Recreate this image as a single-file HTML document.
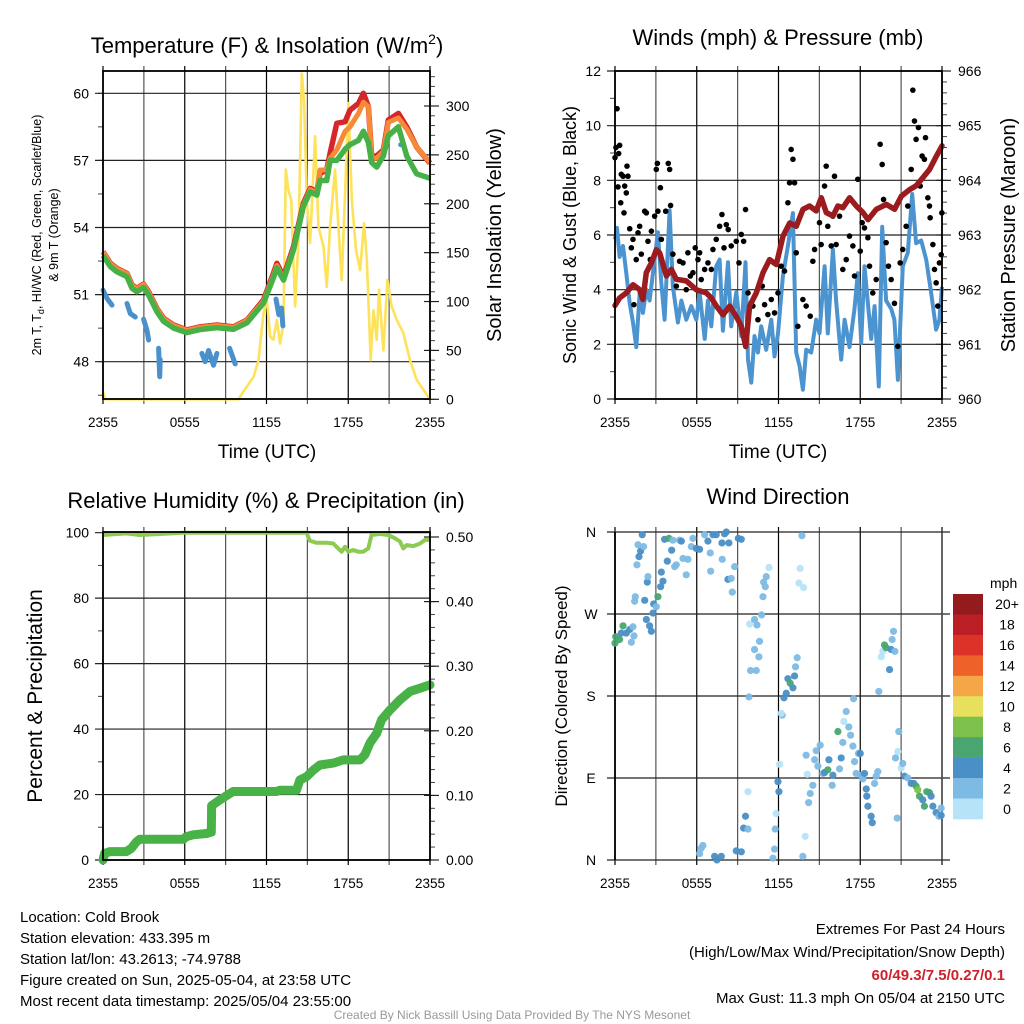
<!DOCTYPE html>
<html><head><meta charset="utf-8">
<style>
html,body{margin:0;padding:0;background:#fff;}
svg{display:block;font-family:"Liberation Sans",Arial,sans-serif;}
</style></head>
<body>
<svg id="fig" width="1024" height="1024" viewBox="0 0 1024 1024">
<rect width="1024" height="1024" fill="#fff"/>
<g id="g-tl"></g>
<g id="g-tr"></g>
<g id="g-bl"></g>
<g id="g-br"></g>
<g id="g-txt">
<text x="20" y="922" font-size="15">Location: Cold Brook</text>
<text x="20" y="943" font-size="15">Station elevation: 433.395 m</text>
<text x="20" y="964" font-size="15">Station lat/lon: 43.2613; -74.9788</text>
<text x="20" y="985" font-size="15">Figure created on Sun, 2025-05-04, at 23:58 UTC</text>
<text x="20" y="1006" font-size="15">Most recent data timestamp: 2025/05/04 23:55:00</text>
<text x="1005" y="934" font-size="15" text-anchor="end">Extremes For Past 24 Hours</text>
<text x="1005" y="957" font-size="15" text-anchor="end">(High/Low/Max Wind/Precipitation/Snow Depth)</text>
<text x="1005" y="980" font-size="15" font-weight="bold" fill="#d0202a" text-anchor="end">60/49.3/7.5/0.27/0.1</text>
<text x="1005" y="1003" font-size="15" text-anchor="end">Max Gust: 11.3 mph On 05/04 at 2150 UTC</text>
<text x="512" y="1019" font-size="12" fill="#999" text-anchor="middle">Created By Nick Bassill Using Data Provided By The NYS Mesonet</text>
</g>
</svg>
<script>
// ---------- data ----------
const timeTicks = [0,3,6,9,12,15,18,21,24];
const timeTickLabels = ["2355","0555","1155","1755","2355"];
const tempTicks = [48,51,54,57,60];
const insTicks = [0,50,100,150,200,250,300];
const windTicks = [0,2,4,6,8,10,12];
const presTicks = [960,961,962,963,964,965,966];
const rhTicks = [0,20,40,60,80,100];
const precipTicks = [0,0.1,0.2,0.3,0.4,0.5];
const precipTickLabels = ["0.00","0.10","0.20","0.30","0.40","0.50"];
const dirTicks = [0,90,180,270,360];
const dirTickLabels = ["N","E","S","W","N"];

const tempTime = [0,0.54,1.03,1.76,2.13,2.49,2.98,3.35,3.96,4.45,5.18,6.16,7.14,8.36,9.58,10.56,11.78,12.51,12.76,13.25,13.98,14.71,15.2,15.69,15.93,16.42,16.67,17.16,17.77,18.13,18.75,19.11,19.48,19.72,20.09,20.58,20.94,21.68,22.29,23.02,24];
const tempRed = [52.92,52.4,52.17,51.95,51.43,51.28,51.47,51.13,50.38,49.94,49.64,49.42,49.56,49.64,49.56,49.86,50.76,51.95,52.4,51.8,53.14,55.08,55.75,55.6,56.42,56.57,57.32,58.66,58.73,59.25,59.55,60.0,59.4,57.17,57.2,57.47,58.8,59.1,58.5,57.6,56.87];
const tempOrange = [52.9,52.38,52.15,51.93,51.41,51.26,51.45,51.1,50.36,49.92,49.62,49.4,49.54,49.62,49.54,49.84,50.7,51.85,52.3,51.7,53.05,55.0,55.7,55.55,56.57,56.57,57.1,57.47,58.3,58.5,59.1,59.6,59.4,57.1,57.1,57.4,58.7,58.9,58.4,57.6,56.9];
const tempGreen = [52.75,52.25,52.02,51.8,51.28,51.13,51.32,50.98,50.23,49.8,49.5,49.3,49.44,49.52,49.45,49.74,50.62,51.75,52.2,51.65,53.0,54.95,55.6,55.45,56.1,56.1,57.0,57.0,57.5,57.7,57.9,58.3,57.8,56.9,56.7,57.2,58.1,58.5,57.2,56.4,56.2];
const dewTime = [0,0.29,0.66,null,1.76,2.0,2.37,null,2.98,3.23,3.35,null,4.08,4.16,4.2,null,7.26,7.5,7.75,8.11,8.36,null,9.29,9.7,null,12.7,12.9,13.1,13.2,null,21.85,21.9];
const dewVal  = [51.2,50.83,50.53,null,50.6,50.15,50.0,null,49.9,49.4,48.97,null,48.6,47.33,48.1,null,48.37,48.0,48.5,47.84,48.37,null,48.6,47.9,null,50.8,50.1,50.4,49.6,null,57.7,57.7];
const insTime = [0,0.17,9.95,10.31,11.05,11.41,11.78,12.02,12.27,12.51,12.76,13.0,13.25,13.42,13.61,13.81,14.1,14.35,14.59,14.76,14.96,15.2,15.57,15.81,16.18,16.42,16.67,17.03,17.28,17.52,17.77,18.01,18.26,18.57,18.87,19.16,19.36,19.65,19.85,20.09,20.26,20.58,20.87,21.19,21.56,22.04,22.53,23.02,23.51,24];
const insVal = [8,0,0,8,23,40,88,102,64,61,81,57,78,235,214,204,95,163,333,306,204,160,269,177,156,115,177,235,177,122,211,303,204,153,132,180,143,40,91,61,112,50,122,95,81,68,40,20,10,0];

const windTime = [0,.15,.34,.59,.83,1.08,1.32,1.56,1.81,2.05,2.30,2.54,2.91,3.15,3.40,3.64,4.01,4.25,4.62,4.87,5.23,5.6,5.97,6.21,6.58,6.82,7.07,7.43,7.68,7.92,8.29,8.53,8.90,9.27,9.58,9.76,10.0,10.24,10.49,10.73,11.1,11.47,11.71,11.96,12.32,12.69,13.06,13.3,13.55,13.79,14.03,14.4,14.77,15.01,15.38,15.62,15.99,16.23,16.6,16.85,17.21,17.58,17.82,18.07,18.31,18.56,18.8,19.05,19.36,19.61,19.9,20.27,20.51,20.76,21.12,21.49,21.81,22.1,22.47,22.84,23.2,23.57,23.81,24];
const windVal = [5.84,6.26,5.2,5.6,4.6,3.5,2.8,1.9,3.9,3.15,4.0,3.6,5.1,6.1,4.25,2.9,6.9,4.1,2.8,3.6,2.9,3.4,2.9,3.9,2.2,3.6,2.66,4.85,5.1,2.5,5.0,2.66,3.9,2.3,5.0,1.44,0.6,2.3,1.7,2.66,1.8,2.9,1.56,2.4,4.5,5.6,6.8,1.7,1.2,0.34,1.8,1.7,2.9,2.4,4.86,2.4,5.47,3.6,1.44,2.9,1.9,3.3,4.6,2.05,4.86,3.5,2.2,3.4,0.46,6.3,3.6,3.3,2.9,0.7,4.86,5.35,7.5,5.7,5.8,5.1,3.9,2.54,2.9,4.1];
const gustTime = [0,.07,.15,.27,.34,.22,.46,.59,.42,.71,.83,.88,.95,.66,1.08,1.2,1.32,1.39,1.56,1.69,1.81,1.93,2.18,2.30,2.42,2.59,2.67,2.91,3.03,3.11,3.15,3.33,3.40,3.72,3.91,4.01,4.08,4.25,4.50,4.74,4.99,5.23,5.35,5.53,5.72,5.89,6.09,6.21,6.33,6.58,6.82,7.07,7.19,7.43,7.68,7.85,8.0,8.17,8.31,8.53,8.90,9.10,9.27,9.44,9.58,9.76,10.12,10.49,10.81,10.98,11.22,11.47,11.71,11.96,12.2,12.44,12.69,12.81,12.93,13.06,13.18,13.30,13.42,13.79,14.03,14.33,14.52,14.65,14.77,15.01,15.13,15.38,15.5,15.62,15.87,15.99,16.11,16.23,16.48,16.72,16.97,17.21,17.46,17.58,17.82,18.0,18.14,18.31,18.56,18.68,18.92,19.17,19.46,19.61,19.71,19.90,20.07,20.27,20.51,20.76,20.93,21.12,21.37,21.49,21.74,21.86,21.98,22.10,22.27,22.40,22.54,22.71,22.79,22.96,23.08,23.13,23.33,23.45,23.57,23.69,23.81,23.94,23.99];
const gustVal = [8.83,9.2,10.62,8.98,9.28,7.76,8.22,8.15,7.18,7.79,7.54,8.52,8.15,6.81,6.23,5.53,5.84,3.45,5.1,6.08,6.32,5.3,6.87,6.81,5.77,5.1,6.14,6.69,8.4,8.62,6.87,7.73,5.84,6.87,8.62,8.4,7.08,5.3,4.13,5.04,4.98,4.0,5.35,4.5,4.62,5.53,5.1,5.35,4.37,4.74,4.98,4.74,5.47,5.84,6.32,6.75,5.53,6.38,6.2,5.6,5.77,4.98,6.02,5.77,6.93,3.88,3.4,2.9,4.13,3.45,3.09,3.64,3.15,3.88,4.86,4.68,7.18,7.91,9.13,8.77,7.91,5.35,2.66,3.64,3.4,3.03,5.04,5.47,6.93,6.45,5.65,7.79,8.52,6.32,5.6,6.69,8.15,5.65,6.69,4.74,5.1,5.96,5.6,4.5,8.04,5.41,6.45,6.26,5.9,4.86,3.88,4.37,9.32,8.58,7.3,5.72,4.86,4.37,3.5,1.93,4.98,5.47,6.32,7.06,8.4,11.3,10.17,9.5,9.93,7.79,8.89,8.77,9.56,7.36,7.06,6.63,5.65,4.74,4.25,3.4,4.98,5.28,6.81];
const presTime = [0,0.34,0.83,1.32,1.81,2.05,2.30,2.67,3.03,3.28,3.77,4.13,4.50,5.23,5.97,6.70,7.07,7.44,7.93,8.41,8.90,9.27,9.59,9.88,10.37,10.86,11.35,11.84,12.33,12.82,13.31,13.80,14.28,14.77,15.14,15.51,16.0,16.36,16.73,17.22,17.71,18.20,18.57,19.18,19.91,20.52,21.01,21.62,22.11,22.60,23.09,23.58,24];
const presVal = [961.71,961.85,961.94,962.09,962.0,961.82,962.31,962.49,962.73,962.67,962.25,962.37,962.19,962.16,962.0,961.94,961.85,961.7,961.54,961.7,961.51,961.33,960.96,961.7,961.94,962.31,962.55,962.46,962.98,963.22,963.16,963.47,963.53,963.44,963.68,963.41,963.35,963.53,963.5,963.68,963.53,963.41,963.28,963.47,963.56,963.47,963.71,963.83,963.9,964.05,964.2,964.44,964.63];

const rhTime = [0,1.71,2.69,4.16,5.88,14.94,15.18,15.67,16.41,16.9,17.14,17.51,17.76,18.0,18.37,18.73,19.1,19.47,19.71,20.32,20.94,21.43,21.8,22.04,22.29,22.78,23.27,23.63,24];
const rhVal = [99.3,99.8,99.3,99.6,100,100,97.6,96.9,96.9,96.7,95.7,94.2,95.7,94.2,94.7,94.2,94.2,95.2,99.3,99.6,99.3,98.3,97.3,95.2,96.2,95.9,96.7,97.8,97.8];
const precipTime = [0,0.12,0.49,1.71,2.08,2.45,2.69,5.88,6.12,6.61,7.59,7.95,7.96,7.97,8.57,9.55,12.0,12.73,12.98,14.2,14.45,14.94,15.43,15.92,16.9,17.63,18.86,19.22,19.59,20.08,20.45,21.06,21.8,22.53,23.27,24];
const precipVal = [0,0.01,0.013,0.013,0.018,0.028,0.032,0.032,0.036,0.039,0.041,0.043,0.065,0.084,0.093,0.106,0.106,0.106,0.108,0.108,0.124,0.129,0.139,0.147,0.15,0.155,0.155,0.163,0.181,0.196,0.217,0.232,0.248,0.261,0.266,0.271];

const dirTime = [0,0.05,0.34,0.59,0.46,0.83,1.08,1.32,1.2,1.39,1.44,1.49,1.61,1.76,1.88,2.0,1.69,2.1,2.18,2.3,2.37,2.42,2.54,2.67,2.79,2.84,3.03,3.15,3.35,3.4,3.52,3.64,3.84,3.96,4.16,4.25,4.38,4.5,4.74,4.87,4.99,5.23,5.35,5.6,5.72,5.97,6.21,6.58,6.82,6.99,7.02,7.19,7.43,7.87,7.85,8.04,8.17,8.29,8.36,8.53,8.61,8.78,9.05,9.27,9.88,9.83,10.24,10.42,10.61,10.24,10.56,9.95,10.37,10.76,10.86,10.91,11.1,11.3,11.03,12.27,12.4,12.57,12.69,12.86,13.06,13.18,13.25,13.37,13.72,13.59,13.5,13.84,6.21,6.33,6.45,7.31,7.48,7.8,8.9,9.27,9.44,9.58,9.76,9.76,11.59,11.71,11.76,11.83,11.96,12.03,12.08,12.2,13.79,13.96,14.03,14.11,14.21,14.33,14.52,14.65,14.77,14.89,15.06,15.26,15.38,15.62,15.7,15.94,15.99,16.36,16.48,16.6,16.72,16.8,16.97,17.16,17.29,17.46,17.51,17.58,17.7,17.87,18.0,18.07,18.19,18.31,18.44,18.48,18.56,18.8,18.88,19.05,19.17,19.29,19.36,19.54,19.66,19.78,19.9,20.15,20.27,20.34,20.44,20.54,20.59,20.71,20.83,20.76,21.0,21.12,21.25,21.49,21.74,21.93,22.1,22.22,22.35,22.59,22.71,22.88,23.08,23.2,23.33,23.57,23.77,23.94,23.94];
const dirDeg = [238,245,242,257,249,249,253,256,239,246,284,289,324,333,339,357,346,344,285,264,305,311,257,251,271,281,278,289,300,316,306,352,328,353,340,351,322,324,351,350,331,313,330,344,353,342,341,357,350,337,317,357,357,330,348,358,360,308,348,309,294,322,353,352,259,179,264,258,240,231,223,208,208,269,289,305,311,321,300,159,178,183,199,194,189,202,212,222,356,320,304,299,7,13,16,4,0,4,10,9,35,48,34,75,2,12,34,51,86,75,105,161,4,26,115,94,63,73,82,110,120,103,126,95,96,99,110,82,93,141,100,112,129,152,163,146,137,125,177,108,95,117,117,93,89,95,78,70,59,48,41,84,92,97,185,223,229,236,233,209,231,242,251,229,112,46,141,119,101,106,92,90,84,84,81,77,70,66,59,75,74,70,59,52,48,57,49];
const dirSpeed = [7,7,7,7,5,5,5,3,3,3,3,3,3,5,5,5,3,3,5,5,5,3,5,5,5,5,3,7,5,5,5,5,5,7,5,3,3,3,3,5,3,3,3,3,3,5,5,3,5,3,3,5,5,3,5,5,5,5,5,3,3,3,5,5,1,3,3,3,3,3,3,3,3,3,3,3,3,1,3,3,5,5,5,7,5,5,3,3,3,1,1,1,3,3,3,5,5,5,5,5,5,5,3,1,3,3,3,1,5,5,1,1,3,1,3,1,3,3,3,3,3,3,3,3,5,7,5,3,5,7,3,5,3,1,3,3,3,3,3,3,3,3,5,3,3,5,5,5,5,5,5,3,3,3,3,1,1,7,7,5,5,3,3,3,3,3,3,1,1,3,5,3,5,5,7,9,7,5,7,7,7,5,5,5,3,3,5,5,5];
const speedBinLabels = ["20+","18","16","14","12","10","8","6","4","2","0"];
const speedBinColors = ["#931a1d","#bb1e25","#dc3328","#ee6229","#f5a647","#e6e05c","#7dc04b","#49a670","#4a8fc6","#7ebbe4","#b6e3f7"];

// ---------- helpers ----------
const NS="http://www.w3.org/2000/svg";
function mk(parent,tag,attrs,txt){const e=document.createElementNS(NS,tag);for(const k in attrs)e.setAttribute(k,attrs[k]);if(txt!==undefined)e.textContent=txt;parent.appendChild(e);return e;}
function lin(d0,d1,r0,r1){return v=>r0+(v-d0)*(r1-r0)/(d1-d0);}

const P={L:{x0:103,x1:430},R:{x0:615,x1:942}};
const TOP={y0:71,y1:399}, BOT={y0:532,y1:860};

function frame(g,px,py,name){
  const xs=lin(0,24,px.x0,px.x1);
  timeTicks.forEach((t,i)=>{
    const l=mk(g,'line',{x1:xs(t),x2:xs(t),y1:py.y0-5,y2:py.y1+5,stroke:(t%6===0)?'#000':'#555','stroke-width':1.2});
    
    
  });
  timeTickLabels.forEach((s,i)=>{
    const t=mk(g,'text',{x:xs(i*6),y:py.y1+28,'font-size':13.5,'text-anchor':'middle'},s);
    
    
  });
  return xs;
}
function hgrid(g,px,ys,ticks,labels,name){
  ticks.forEach((v,i)=>{
    const y=ys(v);
    const l=mk(g,'line',{x1:px.x0-8,x2:px.x1,y1:y,y2:y,stroke:'#222','stroke-width':1.2});
    
    
    const t=mk(g,'text',{x:px.x0-14,y:y+5,'font-size':14,'text-anchor':'end'},labels?labels[i]:String(v));
    
    
  });
}
function rightAxis(g,px,ys,ticks,labels,minorStep,lo,hi,name){
  for(let v=lo; v<=hi+1e-9; v+=minorStep){
    const y=ys(v); if(y<px.yt-1)continue;
    mk(g,'line',{x1:px.x1,x2:px.x1+5,y1:y,y2:y,stroke:'#444','stroke-width':1});
  }
  ticks.forEach((v,i)=>{
    const y=ys(v);
    mk(g,'line',{x1:px.x1-6,x2:px.x1+9,y1:y,y2:y,stroke:'#222','stroke-width':1.2});
    const t=mk(g,'text',{x:px.x1+16,y:y+5,'font-size':14},labels?labels[i]:String(v));
    
    
  });
}
function box(g,px,py){
  const r=mk(g,'rect',{x:px.x0,y:py.y0,width:px.x1-px.x0,height:py.y1-py.y0,fill:'none',stroke:'#000','stroke-width':1.8});
  
  
}
function pathFrom(xs,ys,T,V){
  let d='',pen=false;
  for(let i=0;i<T.length;i++){
    if(T[i]===null||V[i]===null){pen=false;continue;}
    d+=(pen?'L':'M')+xs(T[i]).toFixed(1)+','+ys(V[i]).toFixed(1);pen=true;
  }
  return d;
}
function rotText(g,x,y,size,str,name){
  const t=mk(g,'text',{x:x,y:y,'font-size':size,'text-anchor':'middle',transform:`rotate(-90 ${x} ${y})`},str);
  
  
  return t;
}

// ---------- top-left: temperature ----------
(function(){
  const g=document.getElementById('g-tl');
  const px={x0:103,x1:430,yt:71};
  const xs=frame(g,px,TOP);
  const yT=lin(60,48,93.3,361.7);
  const yS=lin(0,300,399.3,106);
  for(let v=46.5; v<=61; v+=1.5){mk(g,'line',{x1:px.x0-5,x2:px.x0,y1:yT(v),y2:yT(v),stroke:'#444'});}
  hgrid(g,px,yT,tempTicks,null,'temp');
  rightAxis(g,px,yS,insTicks,null,10,0,330,'insolation');
  const ins=mk(g,'path',{d:pathFrom(xs,yS,insTime,insVal),fill:'none',stroke:'#fde25a','stroke-width':2.6,'stroke-linejoin':'round'});
  
  
  const dew=mk(g,'path',{d:pathFrom(xs,yT,dewTime,dewVal),fill:'none',stroke:'#4a90cc','stroke-width':5,'stroke-linecap':'round','stroke-linejoin':'round'});
  
  
  const red=mk(g,'path',{d:pathFrom(xs,yT,tempTime,tempRed),fill:'none',stroke:'#d7262a','stroke-width':5.5,'stroke-linejoin':'round'});
  
  
  const or=mk(g,'path',{d:pathFrom(xs,yT,tempTime,tempOrange),fill:'none',stroke:'#f68a38','stroke-width':5,'stroke-linejoin':'round'});
  
  
  const gr=mk(g,'path',{d:pathFrom(xs,yT,tempTime,tempGreen),fill:'none',stroke:'#47b046','stroke-width':5.5,'stroke-linejoin':'round'});
  
  
  box(g,px,TOP);
  const t=mk(g,'text',{x:267,y:53,'font-size':22,'text-anchor':'middle'});
  
  
  t.innerHTML='Temperature (F) &amp; Insolation (W/m<tspan font-size="14" dy="-9">2</tspan><tspan dy="9">)</tspan>';
  const yl=mk(g,'text',{x:41,y:235,'font-size':12.5,'text-anchor':'middle',transform:'rotate(-90 41 235)'});
  
  
  yl.innerHTML='2m T, T<tspan font-size="9" dy="3">d</tspan><tspan dy="-3">, HI/WC (Red, Green, Scarlet/Blue)</tspan>';
  rotText(g,58,235,12.5,'& 9m T (Orange)','temperature-y-title-line2');
  rotText(g,501,235,20,'Solar Insolation (Yellow)','insolation-y-title');
  const xl=mk(g,'text',{x:267,y:458,'font-size':19,'text-anchor':'middle'},'Time (UTC)');
  
  
})();

// ---------- top-right: wind ----------
(function(){
  const g=document.getElementById('g-tr');
  const px={x0:615,x1:942,yt:71};
  const xs=frame(g,px,TOP);
  const yW=lin(0,12,399,71);
  const yP=lin(960,966,399,71);
  for(let v=1; v<12; v+=2){mk(g,'line',{x1:px.x0-5,x2:px.x0,y1:yW(v),y2:yW(v),stroke:'#444'});}
  hgrid(g,px,yW,windTicks,null,'wind');
  rightAxis(g,px,yP,presTicks,null,0.2,960,966,'pressure');
  const w=mk(g,'path',{d:pathFrom(xs,yW,windTime,windVal),fill:'none',stroke:'#4b94d0','stroke-width':4,'stroke-linejoin':'round'});
  
  
  gustTime.forEach((t,i)=>{
    const c=mk(g,'circle',{cx:xs(t),cy:yW(gustVal[i]),r:2.8,fill:'#000'});
    
    
  });
  const p=mk(g,'path',{d:pathFrom(xs,yP,presTime,presVal),fill:'none',stroke:'#9b1b1e','stroke-width':5.5,'stroke-linejoin':'round','stroke-linecap':'round'});
  
  
  box(g,px,TOP);
  const t=mk(g,'text',{x:778,y:45,'font-size':22,'text-anchor':'middle'},'Winds (mph) & Pressure (mb)');
  
  
  rotText(g,576,235,18,'Sonic Wind & Gust (Blue, Black)','wind-y-title');
  rotText(g,1015,235,20,'Station Pressure (Maroon)','pressure-y-title');
  const xl=mk(g,'text',{x:778,y:458,'font-size':19,'text-anchor':'middle'},'Time (UTC)');
  
  
})();

// ---------- bottom-left: RH & precip ----------
(function(){
  const g=document.getElementById('g-bl');
  const px={x0:103,x1:430,yt:532};
  const xs=frame(g,px,BOT);
  const yR=lin(0,100,860,532.7);
  const yQ=lin(0,0.5,860,537);
  for(let v=10; v<100; v+=20){mk(g,'line',{x1:px.x0-5,x2:px.x0,y1:yR(v),y2:yR(v),stroke:'#444'});}
  hgrid(g,px,yR,rhTicks,null,'rh');
  rightAxis(g,px,yQ,precipTicks,precipTickLabels,0.02,0,0.5,'precip');
  const r=mk(g,'path',{d:pathFrom(xs,yR,rhTime,rhVal),fill:'none',stroke:'#8dca52','stroke-width':4,'stroke-linejoin':'round'});
  
  
  const q=mk(g,'path',{d:pathFrom(xs,yQ,precipTime,precipVal),fill:'none',stroke:'#48b247','stroke-width':9,'stroke-linejoin':'round','stroke-linecap':'round'});
  
  
  box(g,px,BOT);
  const t=mk(g,'text',{x:266,y:508,'font-size':22,'text-anchor':'middle'},'Relative Humidity (%) & Precipitation (in)');
  
  
  rotText(g,42,696,21,'Percent & Precipitation','humidity-y-title');
})();

// ---------- bottom-right: wind direction ----------
(function(){
  const g=document.getElementById('g-br');
  const px={x0:615,x1:942};
  const py={y0:532,y1:860};
  const xs=frame(g,px,py);
  const yD=lin(0,360,860,532);
  dirTicks.forEach((v,i)=>{
    const y=yD(v);
    const l=mk(g,'line',{x1:px.x0-8,x2:px.x1+8,y1:y,y2:y,stroke:'#222','stroke-width':1.2});
    
    
    const t=mk(g,'text',{x:591,y:y+5,'font-size':14,'text-anchor':'middle'},dirTickLabels[i]);
    
    
  });
  mk(g,'line',{x1:px.x0,x2:px.x0,y1:py.y0,y2:py.y1,stroke:'#000','stroke-width':1.8});
  mk(g,'line',{x1:px.x1,x2:px.x1,y1:py.y0,y2:py.y1,stroke:'#444','stroke-width':1.5});
  dirTime.forEach((t,i)=>{
    const s=dirSpeed[i];
    const bin=Math.min(10,Math.floor(s/2));
    const c=mk(g,'circle',{cx:xs(t),cy:yD(dirDeg[i]),r:3.6,fill:speedBinColors[10-bin],'fill-opacity':0.95});
    
    
  });
  const t=mk(g,'text',{x:778,y:504,'font-size':22,'text-anchor':'middle'},'Wind Direction');
  
  
  rotText(g,567,696,17,'Direction (Colored By Speed)','direction-y-title');
  const mph=mk(g,'text',{x:990,y:588,'font-size':14},'mph');
  
  
  const bh=225/11;
  speedBinLabels.forEach((lab,i)=>{
    const y=594+i*bh;
    const r=mk(g,'rect',{x:953,y:y,width:30,height:bh+0.3,fill:speedBinColors[i]});
    
    
    const tx=mk(g,'text',{x:1007,y:y+bh/2+5,'font-size':14,'text-anchor':'middle'},lab);
    
    
  });
})();
</script>
</body></html>
